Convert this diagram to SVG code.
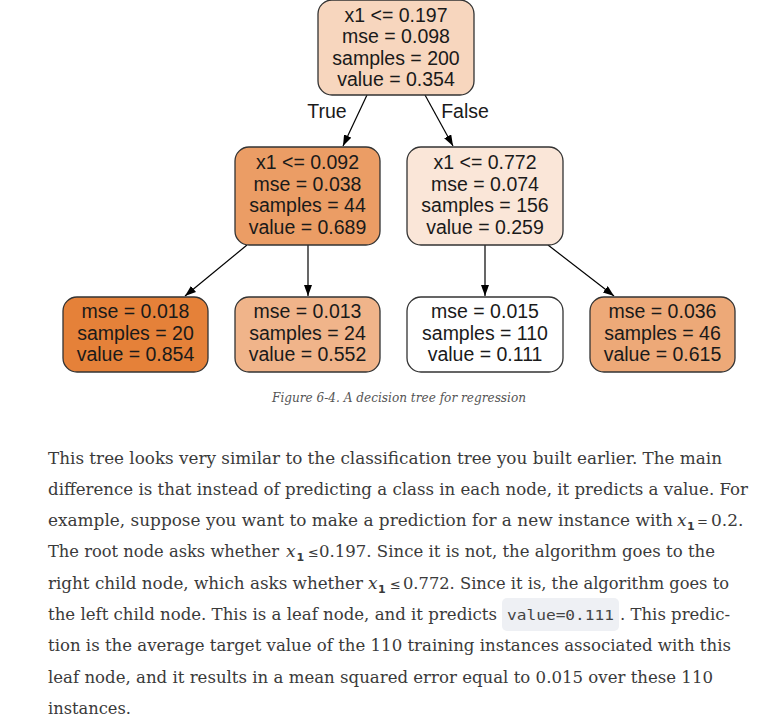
<svg xmlns="http://www.w3.org/2000/svg" width="779" height="725" viewBox="0 0 779 725">
<style>
.nb{stroke:#333;stroke-width:1.3}
.nt{font-family:"Liberation Sans",Arial,sans-serif;font-size:19.5px;fill:#1a1a1a;text-anchor:middle}
.edge{stroke:#000;stroke-width:1.2;fill:none}
.body{font-family:"DejaVu Serif","Noto Serif",serif;font-size:17px;fill:#3a3a3a}
.mx{font-family:"DejaVu Serif",serif;font-style:italic;font-size:17px;fill:#3a3a3a}
.sub{font-family:"DejaVu Sans","Liberation Sans",sans-serif;font-weight:bold;font-size:11px;fill:#3a3a3a}
.le{font-family:"DejaVu Sans",sans-serif;font-size:13px;fill:#3a3a3a}
.code{font-family:"DejaVu Sans Mono","Liberation Mono",monospace;font-size:14px;fill:#444}
.cap{font-family:"DejaVu Serif","Noto Serif",serif;font-style:italic;font-size:13.5px;fill:#555}
</style>
<defs>
<marker id="ah" markerUnits="userSpaceOnUse" markerWidth="11" markerHeight="8" refX="11" refY="4" orient="auto">
<path d="M0,0 L11,4 L0,8 z" fill="#000"/>
</marker>
</defs>
<rect width="779" height="725" fill="#fff"/>

<g id="connectors">
<line class="edge" x1="367" y1="95" x2="343" y2="146" marker-end="url(#ah)"/>
<line class="edge" x1="425" y1="95" x2="453" y2="146" marker-end="url(#ah)"/>
<line class="edge" x1="247" y1="245" x2="185" y2="296" marker-end="url(#ah)"/>
<line class="edge" x1="308" y1="245" x2="308" y2="296" marker-end="url(#ah)"/>
<line class="edge" x1="485" y1="245" x2="485" y2="296" marker-end="url(#ah)"/>
<line class="edge" x1="548" y1="245" x2="614" y2="296" marker-end="url(#ah)"/>
<text class="nt" x="327" y="118">True</text>
<text class="nt" x="465" y="118">False</text>
</g>

<g id="root">
<rect class="nb" x="318" y="0" width="156" height="95" rx="14" fill="#f7d6be"/>
<text class="nt" x="396" y="21.5">x1 &lt;= 0.197</text>
<text class="nt" x="396" y="43">mse = 0.098</text>
<text class="nt" x="396" y="64.5">samples = 200</text>
<text class="nt" x="396" y="86">value = 0.354</text>
</g>

<g id="node_left">
<rect class="nb" x="235" y="147" width="145" height="98" rx="14" fill="#eb9d65"/>
<text class="nt" x="307.5" y="169">x1 &lt;= 0.092</text>
<text class="nt" x="307.5" y="190.5">mse = 0.038</text>
<text class="nt" x="307.5" y="212">samples = 44</text>
<text class="nt" x="307.5" y="233.5">value = 0.689</text>
</g>

<g id="node_right">
<rect class="nb" x="407" y="147" width="156" height="98" rx="14" fill="#fae6d8"/>
<text class="nt" x="485" y="169">x1 &lt;= 0.772</text>
<text class="nt" x="485" y="190.5">mse = 0.074</text>
<text class="nt" x="485" y="212">samples = 156</text>
<text class="nt" x="485" y="233.5">value = 0.259</text>
</g>

<g id="leaf1">
<rect class="nb" x="63" y="297" width="145" height="75" rx="14" fill="#e58139"/>
<text class="nt" x="135.5" y="318">mse = 0.018</text>
<text class="nt" x="135.5" y="339.5">samples = 20</text>
<text class="nt" x="135.5" y="361">value = 0.854</text>
</g>

<g id="leaf2">
<rect class="nb" x="235" y="297" width="145" height="75" rx="14" fill="#f0b48a"/>
<text class="nt" x="307.5" y="318">mse = 0.013</text>
<text class="nt" x="307.5" y="339.5">samples = 24</text>
<text class="nt" x="307.5" y="361">value = 0.552</text>
</g>

<g id="leaf3">
<rect class="nb" x="407" y="297" width="156" height="75" rx="14" fill="#ffffff"/>
<text class="nt" x="485" y="318">mse = 0.015</text>
<text class="nt" x="485" y="339.5">samples = 110</text>
<text class="nt" x="485" y="361">value = 0.111</text>
</g>

<g id="leaf4">
<rect class="nb" x="590" y="297" width="145" height="75" rx="14" fill="#eda978"/>
<text class="nt" x="662.5" y="318">mse = 0.036</text>
<text class="nt" x="662.5" y="339.5">samples = 46</text>
<text class="nt" x="662.5" y="361">value = 0.615</text>
</g>

<text class="cap" x="272" y="402" textLength="254" lengthAdjust="spacingAndGlyphs">Figure 6-4. A decision tree for regression</text>

<g id="paragraph">
<text class="body" x="48" y="464" textLength="674" lengthAdjust="spacingAndGlyphs">This tree looks very similar to the classification tree you built earlier. The main</text>
<text class="body" x="48" y="495" textLength="700" lengthAdjust="spacingAndGlyphs">difference is that instead of predicting a class in each node, it predicts a value. For</text>

<text class="body" x="48" y="526" textLength="625" lengthAdjust="spacingAndGlyphs">example, suppose you want to make a prediction for a new instance with</text>
<text class="mx" x="677" y="526">x</text>
<text class="sub" x="687" y="530">1</text>
<text class="le" x="697" y="526">=</text>
<text class="body" x="711" y="526">0.2.</text>

<text class="body" x="48" y="557" textLength="231" lengthAdjust="spacingAndGlyphs">The root node asks whether</text>
<text class="mx" x="286" y="557">x</text>
<text class="sub" x="296.5" y="561">1</text>
<text class="le" x="308" y="557">≤</text>
<text class="body" x="319" y="557" textLength="396" lengthAdjust="spacingAndGlyphs">0.197. Since it is not, the algorithm goes to the</text>

<text class="body" x="48" y="589" textLength="315" lengthAdjust="spacingAndGlyphs">right child node, which asks whether</text>
<text class="mx" x="368" y="589">x</text>
<text class="sub" x="378" y="593">1</text>
<text class="le" x="390" y="589">≤</text>
<text class="body" x="403" y="589" textLength="326" lengthAdjust="spacingAndGlyphs">0.772. Since it is, the algorithm goes to</text>

<text class="body" x="48" y="620" textLength="449" lengthAdjust="spacingAndGlyphs">the left child node. This is a leaf node, and it predicts</text>
<rect x="502" y="598" width="117" height="33" rx="5" fill="#eef0f4"/>
<text class="code" x="507" y="620" textLength="107" lengthAdjust="spacingAndGlyphs">value=0.111</text>
<text class="body" x="620" y="620" textLength="110" lengthAdjust="spacingAndGlyphs">. This predic-</text>

<text class="body" x="48" y="651" textLength="683" lengthAdjust="spacingAndGlyphs">tion is the average target value of the 110 training instances associated with this</text>
<text class="body" x="48" y="683" textLength="665" lengthAdjust="spacingAndGlyphs">leaf node, and it results in a mean squared error equal to 0.015 over these 110</text>
<text class="body" x="48" y="714" textLength="83" lengthAdjust="spacingAndGlyphs">instances.</text>
</g>
</svg>
